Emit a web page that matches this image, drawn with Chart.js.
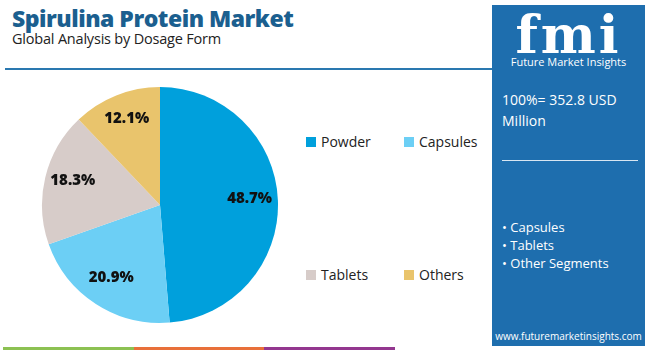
<!DOCTYPE html>
<html>
<head>
<meta charset="utf-8">
<script src="https://cdn.jsdelivr.net/npm/chart.js@4.4.0/dist/chart.umd.min.js"></script>
<style>
  body { margin: 0; width: 650px; height: 351px; background: #fff; font-family: "Open Sans", sans-serif; overflow: hidden; position: relative; }
  #title { position: absolute; left: 12px; top: 2px; font-size: 23px; font-weight: 800; color: #1b5f8f; letter-spacing: -0.5px; }
  #subtitle { position: absolute; left: 12px; top: 29px; font-size: 14.5px; color: #222; letter-spacing: -0.2px; }
  #rule { position: absolute; left: 5px; top: 68px; width: 487px; height: 2px; background: #2a78b0; }
  #pieBox { position: absolute; left: 40px; top: 85px; width: 240px; height: 240px; }
  .leg { position: absolute; font-size: 14px; color: #222; display: flex; align-items: center; }
  .leg span.sw { display: inline-block; width: 10px; height: 10px; margin-right: 5px; }
  #panel { position: absolute; left: 492px; top: 5px; width: 153px; height: 341px; background: #1e6eae; color: #fff; }
  #logo { position: absolute; left: 0; top: 4px; width: 153px; text-align: center; font-family: "DejaVu Serif", serif; font-weight: 700; font-size: 52px; line-height: 52px; letter-spacing: 3px; }
  #logoSub { position: absolute; left: 0; top: 49px; width: 153px; text-align: center; font-size: 11px; }
  #total { position: absolute; left: 10px; top: 84px; font-size: 14px; line-height: 21px; }
  #prule { position: absolute; left: 10px; top: 155px; width: 136px; height: 1px; background: #d8e6f2; }
  #segs { position: absolute; left: 10px; top: 213px; font-size: 13px; line-height: 18px; }
  #url { position: absolute; left: 0; top: 324px; width: 153px; text-align: center; font-size: 10px; }
  .stripe { position: absolute; top: 347px; height: 3px; }
</style>
</head>
<body>
<div id="title">Spirulina Protein Market</div>
<div id="subtitle">Global Analysis by Dosage Form</div>
<div id="rule"></div>
<div id="pieBox"><canvas id="pie"></canvas></div>
<div id="legend"></div>
<div id="panel">
  <div id="logo">fmi</div>
  <div id="logoSub">Future Market Insights</div>
  <div id="total">100%= 352.8 USD<br>Million</div>
  <div id="prule"></div>
  <div id="segs">&bull; Capsules<br>&bull; Tablets<br>&bull; Other Segments</div>
  <div id="url">www.futuremarketinsights.com</div>
</div>
<div class="stripe" style="left:3px;width:131px;background:#8cc152"></div>
<div class="stripe" style="left:134px;width:130px;background:#e8703a"></div>
<div class="stripe" style="left:264px;width:131px;background:#93378f"></div>
<script>
const categories = ["Powder", "Capsules", "Tablets", "Others"];
const shares = [48.7, 20.9, 18.3, 12.1];
const colors = ["#00a0dc", "#6ccff5", "#d7ccc9", "#e9c46c"];

// legend in a 2x2 grid like the reference
const legendPos = [[306, 132], [404, 132], [306, 265], [404, 265]];
const legend = document.getElementById("legend");
categories.forEach((c, i) => {
  const d = document.createElement("div");
  d.className = "leg";
  d.style.left = legendPos[i][0] + "px";
  d.style.top = legendPos[i][1] + "px";
  d.innerHTML = '<span class="sw" style="background:' + colors[i] + '"></span>' + c;
  legend.appendChild(d);
});

const sliceLabels = {
  id: "sliceLabels",
  afterDatasetsDraw(chart) {
    const ctx = chart.ctx;
    const meta = chart.getDatasetMeta(0);
    ctx.save();
    ctx.font = "800 15px 'Open Sans', sans-serif";
    ctx.fillStyle = "#111";
    ctx.textAlign = "center";
    ctx.textBaseline = "middle";
    meta.data.forEach((arc, i) => {
      const mid = (arc.startAngle + arc.endAngle) / 2;
      const r = arc.outerRadius * 0.76;
      ctx.fillText(shares[i].toFixed(1) + "%", arc.x + Math.cos(mid) * r, arc.y + Math.sin(mid) * r - 3);
    });
    ctx.restore();
  }
};

new Chart(document.getElementById("pie"), {
  type: "pie",
  plugins: [sliceLabels],
  data: {
    labels: categories,
    datasets: [{ data: shares, backgroundColor: colors, borderWidth: 0 }]
  },
  options: {
    responsive: true,
    maintainAspectRatio: false,
    animation: false,
    layout: { padding: 2 },
    plugins: { legend: { display: false }, tooltip: { enabled: false } }
  }
});
</script>
</body>
</html>
